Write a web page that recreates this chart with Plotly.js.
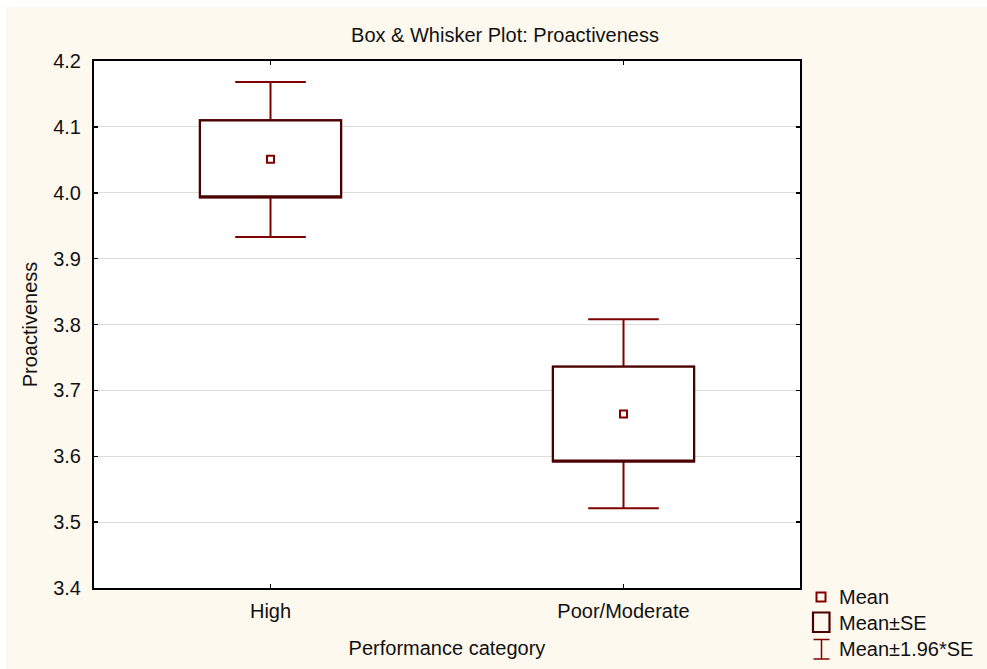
<!DOCTYPE html>
<html>
<head>
<meta charset="utf-8">
<script src="https://cdn.plot.ly/plotly-3.0.1.min.js"></script>
<style>
  html, body { margin: 0; padding: 0; background: #ffffff; width: 987px; height: 669px; overflow: hidden; }
  #chart { position: absolute; left: 6px; top: 7px; width: 981px; height: 662px; }
</style>
</head>
<body>
<div id="chart"></div>
<script>
// ---- Data ----
const categories = ["High", "Poor/Moderate"];
const means      = [4.051, 3.664];
const seLow      = [3.993, 3.592];   // Mean - SE
const seHigh     = [4.110, 3.736];   // Mean + SE
const ciLow      = [3.933, 3.521];   // Mean - 1.96*SE
const ciHigh     = [4.168, 3.808];   // Mean + 1.96*SE
const yTicks     = [3.4, 3.5, 3.6, 3.7, 3.8, 3.9, 4.0, 4.1, 4.2];
const legendLabels = ["Mean", "Mean±SE", "Mean±1.96*SE"];

const FONT = "Arial, 'Liberation Sans', sans-serif";
const FS = 20;
const TXT = "#111111";
const BOX_EDGE = "#4a0000";
const RED = "#800000";

// layout geometry (div pixels)
const W = 981, H = 662;
const M = { l: 88, r: 187, t: 54, b: 81 };
const PW = W - M.l - M.r, PH = H - M.t - M.b;
const px = x => (x - 6 - M.l) / PW;          // page x -> paper
const py = y => 1 - (y - 7 - M.t) / PH;      // page y -> paper

const traces = [
  // Mean ± 1.96*SE whiskers (with caps)
  {
    type: "box", x: categories,
    q1: seLow, median: means, q3: seHigh,
    lowerfence: ciLow, upperfence: ciHigh,
    width: 0.4, whiskerwidth: 0.5,
    fillcolor: "#ffffff",
    line: { color: RED, width: 2 },
    boxpoints: false, hoverinfo: "skip", showlegend: false
  },
  // Mean ± SE boxes, drawn on top
  {
    type: "box", x: categories,
    q1: seLow, median: seLow, q3: seHigh,
    lowerfence: seLow, upperfence: seHigh,
    width: 0.4, whiskerwidth: 0,
    fillcolor: "#ffffff",
    line: { color: BOX_EDGE, width: 2.2 },
    boxpoints: false, hoverinfo: "skip", showlegend: false
  },
  // means
  {
    type: "scatter", mode: "markers", x: categories, y: means,
    marker: { symbol: "square-open", size: 7, color: RED, line: { width: 2, color: RED } },
    showlegend: false
  }
];

// Manual legend (bottom right, outside plot)
const shapes = [
  { type: "rect", xref: "paper", yref: "paper",
    x0: px(816.5), x1: px(825.5), y0: py(601.5), y1: py(592.5),
    line: { color: RED, width: 2 }, fillcolor: "rgba(0,0,0,0)" },
  { type: "rect", xref: "paper", yref: "paper",
    x0: px(813), x1: px(829.5), y0: py(632), y1: py(612.5),
    line: { color: BOX_EDGE, width: 2.2 }, fillcolor: "rgba(0,0,0,0)" },
  { type: "line", xref: "paper", yref: "paper",
    x0: px(821.5), x1: px(821.5), y0: py(639.5), y1: py(659),
    line: { color: RED, width: 1.5 } },
  { type: "line", xref: "paper", yref: "paper",
    x0: px(813.5), x1: px(829.5), y0: py(639.5), y1: py(639.5),
    line: { color: RED, width: 1.5 } },
  { type: "line", xref: "paper", yref: "paper",
    x0: px(813.5), x1: px(829.5), y0: py(659), y1: py(659),
    line: { color: RED, width: 1.5 } }
];
const legendY = [597, 623, 649];
const annotations = legendLabels.map((t, i) => ({
  text: t, xref: "paper", yref: "paper",
  x: px(837), y: py(legendY[i]), xanchor: "left", yanchor: "middle",
  showarrow: false, font: { family: FONT, size: FS, color: TXT }
}));

const layout = {
  width: W, height: H,
  margin: M,
  paper_bgcolor: "#fef9ef",
  plot_bgcolor: "#ffffff",
  font: { family: FONT, size: FS, color: TXT },
  boxmode: "overlay",
  title: {
    text: "Box & Whisker Plot: Proactiveness",
    font: { family: FONT, size: FS, color: TXT },
    xref: "container", yref: "container",
    x: (505 - 6) / W, y: 1 - (35 - 7) / H,
    xanchor: "center", yanchor: "middle"
  },
  xaxis: {
    type: "category",
    range: [-0.5, 1.5],
    title: { text: "Performance category", standoff: 20,
             font: { family: FONT, size: FS, color: TXT } },
    showgrid: false, zeroline: false,
    showline: true, linecolor: "#000000", linewidth: 2, mirror: "ticks",
    ticks: "inside", ticklen: 4, tickcolor: "#000000", tickwidth: 1.5,
    ticklabelstandoff: 4,
    tickfont: { family: FONT, size: FS, color: TXT },
    fixedrange: true
  },
  yaxis: {
    range: [3.4, 4.2],
    tickmode: "array", tickvals: yTicks, ticktext: yTicks.map(v => v.toFixed(1)),
    title: { text: "Proactiveness", standoff: 10,
             font: { family: FONT, size: FS, color: TXT } },
    showgrid: true, gridcolor: "#dcdcdc", gridwidth: 1,
    zeroline: false,
    showline: true, linecolor: "#000000", linewidth: 2, mirror: "ticks",
    ticks: "inside", ticklen: 4, tickcolor: "#000000", tickwidth: 1.5,
    ticklabelstandoff: 7,
    tickfont: { family: FONT, size: FS, color: TXT },
    fixedrange: true
  },
  showlegend: false,
  shapes: shapes,
  annotations: annotations
};

Plotly.newPlot("chart", traces, layout, { displayModeBar: false, staticPlot: true });
</script>
</body>
</html>
